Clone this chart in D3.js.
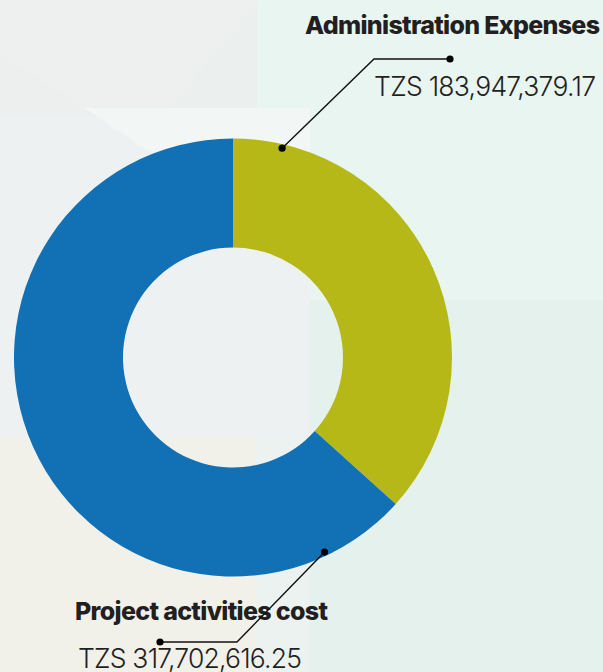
<!DOCTYPE html>
<html>
<head>
<meta charset="utf-8">
<script src="https://cdn.jsdelivr.net/npm/d3@7"></script>
<style>
  html, body { margin: 0; padding: 0; background: #e6f3ee; }
  svg { display: block; }
</style>
</head>
<body>
<div id="chart"></div>
<script>
// Chart data
const categories = ["Administration Expenses", "Project activities cost"];
const amounts = [183947379.17, 317702616.25];
const sliceColors = ["#b5b817", "#1271b5"];

// Page size and donut geometry
const width = 603;
const height = 672;
const cx = 233, cy = 357.5;
const outerR = 219, innerR = 110;

const svg = d3.select("#chart")
  .append("svg")
  .attr("width", width)
  .attr("height", height);

// Soft background panels
const bg = svg.append("g");
bg.append("rect").attr("width", width).attr("height", height).attr("fill", "#e4f1ec");
bg.append("rect").attr("x", 257).attr("y", 0).attr("width", 346).attr("height", 300).attr("fill", "#e8f5f0");
bg.append("rect").attr("x", 0).attr("y", 0).attr("width", 257).attr("height", 115).attr("fill", "#eef0ef");
bg.append("polygon").attr("points", "170,108 257,5 257,108").attr("fill", "#ebf0ee");
bg.append("rect").attr("x", 0).attr("y", 108).attr("width", 310).attr("height", 330).attr("fill", "#f2f6f5");
bg.append("polygon").attr("points", "0,115 95,115 310,260 310,438 0,438").attr("fill", "#edf1f2");
bg.append("polygon").attr("points", "0,55 95,115 0,115").attr("fill", "#ecefee");
bg.append("rect").attr("x", 0).attr("y", 438).attr("width", 256).attr("height", 234).attr("fill", "#f1f1ea");
bg.append("rect").attr("x", 256).attr("y", 438).attr("width", 54).attr("height", 234).attr("fill", "#ecf2ef");

// Donut
const pie = d3.pie().sort(null).value(d => d)(amounts);
const arc = d3.arc().innerRadius(innerR).outerRadius(outerR);

const g = svg.append("g").attr("transform", "translate(" + cx + "," + cy + ")");

g.selectAll("path")
  .data(pie)
  .enter()
  .append("path")
  .attr("d", arc)
  .attr("fill", (d, i) => sliceColors[i]);

// Label layout (leader elbows and text anchors)
const labelLayout = [
  { elbow: [374, 59], end: [450, 59], anchor: "end", tx: 600, ty: 34, tw: 295, vx: 596, vy: 96, vw: 222 },
  { elbow: [237, 642], end: [160, 642], anchor: "start", tx: 75, ty: 620, tw: 253, vx: 78, vy: 668, vw: 224 }
];

const fmt = d3.format(",.2f");
const ink = "#231f20";

pie.forEach(function (d, i) {
  const L = labelLayout[i];
  const a = d.startAngle + 0.1 * (d.endAngle - d.startAngle);
  const r = outerR - 4;
  const p = [cx + r * Math.sin(a), cy - r * Math.cos(a)];

  // title and amount
  svg.append("text")
    .attr("x", L.tx).attr("y", L.ty)
    .attr("text-anchor", L.anchor)
    .attr("font-family", "Inter, 'Noto Sans', sans-serif")
    .attr("font-weight", 800)
    .attr("font-size", 25)
    .attr("textLength", L.tw)
    .attr("lengthAdjust", "spacing")
    .attr("fill", ink)
    .text(categories[i]);

  svg.append("text")
    .attr("x", L.vx).attr("y", L.vy)
    .attr("text-anchor", L.anchor)
    .attr("font-family", "Inter, 'Noto Sans', sans-serif")
    .attr("font-weight", 300)
    .attr("font-size", 26.5)
    .attr("textLength", L.vw)
    .attr("lengthAdjust", "spacing")
    .attr("fill", ink)
    .text("TZS " + fmt(amounts[i]));

  // leader line
  svg.append("path")
    .attr("d", d3.line()([p, L.elbow, L.end]))
    .attr("fill", "none")
    .attr("stroke", "#111")
    .attr("stroke-width", 1.4);

  svg.append("circle").attr("cx", p[0]).attr("cy", p[1]).attr("r", 3.6).attr("fill", "#000");
  svg.append("circle").attr("cx", L.end[0]).attr("cy", L.end[1]).attr("r", 3.6).attr("fill", "#000");
});
</script>
</body>
</html>
